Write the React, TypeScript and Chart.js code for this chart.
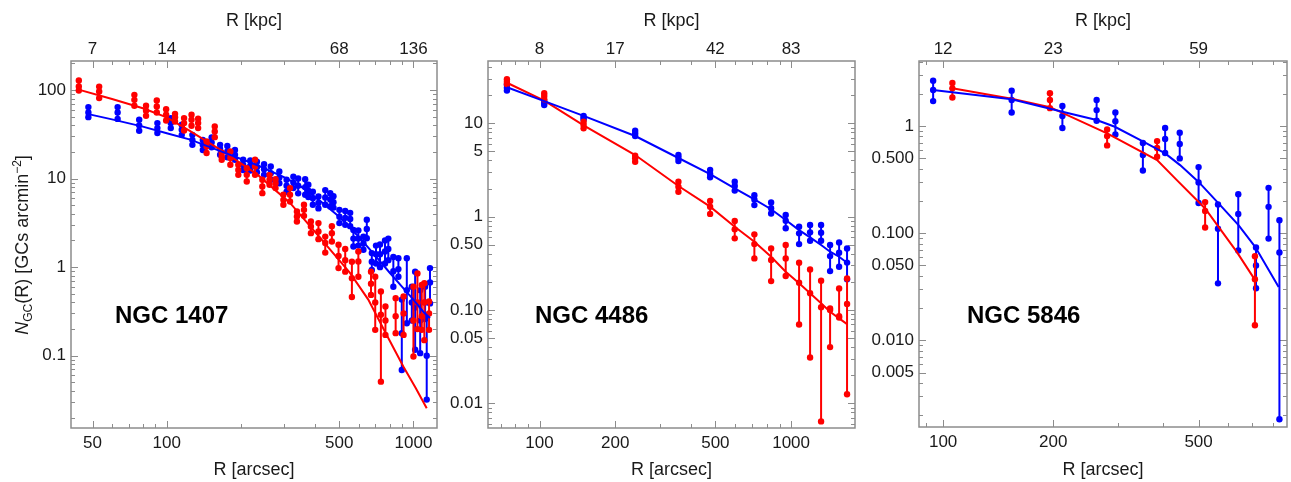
import React, { useEffect, useRef } from "react";
import { Chart, registerables } from "chart.js";

Chart.register(...registerables);

type Row = [number, number, number, number]; // R [arcsec], low, centre, high
type Pt = [number, number];

const RED = "#ff0000";
const BLUE = "#0000ff";
const FONT = '"Liberation Sans", Arial, Helvetica, sans-serif';
const TEXT = "#1a1a1a";
const FRAME = "#8c8c8c";

// ---------------- NGC 1407 ----------------
const n1407XTicks = [50, 100, 500, 1000];
const n1407XLabels = ["50", "100", "500", "1000"];
const n1407KpcLabels = ["7", "14", "68", "136"];
const n1407YTicks = [0.1, 1, 10, 100];
const n1407YLabels = ["0.1", "1", "10", "100"];

const n1407Red: Row[] = [
  [44.0, 98.4, 109.6, 127.6], [53.2, 80.8, 95.9, 109], [73.9, 66.2, 77.3, 88],
  [82.4, 51.0, 58.1, 66.2], [91.1, 55.6, 65, 75.9], [99.4, 45.1, 52.4, 60.7],
  [108, 44.0, 49.3, 53.7], [117.5, 34.8, 42.2, 48.1], [126, 39.4, 46, 52.4],
  [134, 37.1, 42.2, 47.2], [145, 19.4, 23.0, 26.2], [156.5, 29.3, 33.9, 38.6],
  [167, 16.3, 17.7, 19.6], [181, 14.3, 17.0, 20.2], [195, 11.0, 12.5, 14.3],
  [211, 9.25, 11.0, 13.1], [228, 11.0, 13.7, 16.3], [244, 6.84, 8.13, 9.67],
  [261, 8.49, 9.67, 11.0], [276, 7.8, 8.87, 9.84], [297, 5.05, 5.75, 6.55],
  [316, 5.5, 6.55, 7.8], [337, 3.27, 3.73, 4.24], [360, 3.79, 4.43, 5.05],
  [384, 2.42, 2.87, 3.27], [412, 2.07, 2.52, 3.14], [439, 1.46, 1.87, 2.21],
  [467, 1.95, 2.42, 2.9], [497, 0.975, 1.34, 1.79], [529, 0.89, 1.2, 1.6],
  [563, 0.46, 0.75, 1.15], [598, 0.78, 1.16, 1.5], [673, 0.486, 0.65, 0.89],
  [700, 0.196, 0.4, 0.78], [738, 0.051, 0.29, 0.53], [770, 0.172, 0.25, 0.359],
  [847, 0.18, 0.28, 0.447], [912, 0.172, 0.3, 0.466], [1000, 0.098, 0.25, 0.6],
  [1038, 0.2, 0.4, 0.85], [1081, 0.196, 0.28, 0.63], [1107, 0.15, 0.4, 0.66],
  [1157, 0.196, 0.3, 0.41],
];

const n1407Blue: Row[] = [
  [48.1, 49.3, 55.6, 64], [63.2, 47.1, 55.6, 64], [77.3, 34.6, 39.8, 46],
  [91.6, 32.6, 37.1, 42.2], [103.8, 37.1, 42.2, 48.1], [115, 31.1, 35.5, 40.4],
  [127, 24.0, 27.3, 31.1], [140, 21.0, 24.0, 27.3], [152, 22.5, 25.5, 29],
  [164.5, 18.6, 21.5, 24], [176, 17.4, 20.2, 23.3], [189, 16.3, 18.5, 21],
  [204, 12.5, 14.3, 16.3], [218, 12.3, 14, 16], [232, 11.8, 13.5, 15.5],
  [248, 11.0, 12.7, 14.5], [264, 9.67, 11.5, 13.7], [286, 8.85, 10.3, 12.0],
  [306, 7.1, 8.3, 9.67], [326, 7.8, 9.0, 10.5], [341, 6.8, 8.3, 10],
  [364, 6.55, 8.0, 9.84], [375, 6.2, 7.3, 8.5], [391, 5.05, 6.0, 7.1],
  [412, 4.6, 5.3, 6.27], [439, 5.05, 6.1, 7.4], [460, 4.83, 5.8, 6.84],
  [474, 4.7, 5.4, 6.3], [501, 3.14, 3.7, 4.43], [529, 3.0, 3.6, 4.3],
  [554, 2.9, 3.5, 4.1], [571, 1.71, 2.1, 2.63], [598, 1.75, 2.1, 2.6],
  [627, 1.57, 1.85, 2.21], [647, 2.12, 2.7, 3.42], [678, 0.93, 1.15, 1.44],
  [705, 1.1, 1.4, 1.75], [732, 1.0, 1.4, 1.8], [767, 1.1, 1.5, 2.0],
  [791, 1.2, 1.6, 2.1], [829, 0.6, 0.9, 1.3], [869, 0.78, 0.95, 1.26],
  [897, 0.069, 0.18, 0.43], [940, 0.233, 0.55, 1.26], [985, 0.25, 0.4, 0.6],
  [1016, 0.117, 0.35, 0.89], [1065, 0.107, 0.25, 0.55], [1115, 0.26, 0.4, 0.6],
  [1132, 0.032, 0.1, 0.277], [1167, 0.39, 0.67, 0.975],
];

const n1407RedFit: Pt[] = [
  [43.2, 102], [60, 79], [80, 62], [100, 49], [124, 34.5], [167, 20.7],
  [232, 11.2], [316, 5.3], [412, 2.25], [553, 0.86], [656, 0.43], [780, 0.17],
  [910, 0.0755], [1020, 0.0435], [1132, 0.0256],
];
const n1407BlueFit: Pt[] = [
  [47.1, 54], [60, 46.5], [80, 38.5], [100, 32.5], [124.5, 27.5], [164, 20.5],
  [232, 14.2], [300, 10.3], [346, 8.3], [418, 5.6], [500, 3.7], [600, 2.2],
  [700, 1.35], [800, 0.87], [900, 0.6], [1000, 0.43], [1100, 0.31], [1167, 0.266],
];

// ---------------- NGC 4486 ----------------
const n4486XTicks = [100, 200, 500, 1000];
const n4486XLabels = ["100", "200", "500", "1000"];
const n4486KpcLabels = ["8", "17", "42", "83"];
const n4486YTicks = [0.01, 0.05, 0.1, 0.5, 1, 5, 10];
const n4486YLabels = ["0.01", "0.05", "0.10", "0.50", "1", "5", "10"];

const n4486Blue: Row[] = [
  [74.2, 22.4, 24.0, 26.0], [104.4, 15.7, 16.5, 17.4], [149.7, 11.0, 11.5, 12.0],
  [240, 7.31, 7.82, 8.33], [356.6, 3.94, 4.28, 4.57], [476.6, 2.64, 2.86, 3.16],
  [597, 1.9, 2.13, 2.37], [714.6, 1.33, 1.53, 1.7], [833, 1.08, 1.23, 1.42],
  [952, 0.75, 0.904, 1.04], [1076, 0.508, 0.662, 0.78], [1190, 0.552, 0.679, 0.813],
  [1316, 0.552, 0.673, 0.813], [1429, 0.261, 0.378, 0.497], [1552, 0.29, 0.41, 0.53],
  [1669, 0.213, 0.322, 0.455],
];
const n4486Red: Row[] = [
  [74.2, 26.4, 27.9, 29.6], [104.4, 18.1, 19.6, 21.0], [149.7, 8.83, 9.6, 10.4],
  [240, 3.87, 4.22, 4.5], [356.6, 1.85, 2.09, 2.37], [476.6, 1.07, 1.28, 1.47],
  [597, 0.585, 0.731, 0.897], [714.6, 0.357, 0.508, 0.646], [833, 0.204, 0.343, 0.457],
  [952, 0.231, 0.357, 0.497], [1076, 0.07, 0.196, 0.321], [1190, 0.031, 0.151, 0.272],
  [1316, 0.0064, 0.107, 0.206], [1429, 0.04, 0.1, 0.104], [1552, 0.083, 0.086, 0.17],
  [1669, 0.0125, 0.116, 0.218],
];
const n4486BlueFit: Pt[] = [
  [74.2, 24.3], [104.4, 17.3], [149.7, 12.0], [240, 7.31], [356.6, 4.25],
  [476.6, 2.86], [597, 2.01], [714.6, 1.53], [833, 1.2], [952, 0.92],
  [1076, 0.718], [1190, 0.6], [1316, 0.497], [1429, 0.421], [1552, 0.372], [1669, 0.32],
];
const n4486RedFit: Pt[] = [
  [74.2, 27.2], [104.4, 17.5], [149.7, 9.5], [240, 4.57], [356.6, 2.13],
  [476.6, 1.28], [597, 0.78], [714.6, 0.538], [833, 0.372], [952, 0.257],
  [1076, 0.193], [1190, 0.151], [1316, 0.118], [1429, 0.0957], [1552, 0.0813], [1669, 0.0706],
];

// ---------------- NGC 5846 ----------------
const n5846XTicks = [100, 200, 500];
const n5846XLabels = ["100", "200", "500"];
const n5846KpcLabels = ["12", "23", "59"];
const n5846YTicks = [0.005, 0.01, 0.05, 0.1, 0.5, 1];
const n5846YLabels = ["0.005", "0.010", "0.050", "0.100", "0.500", "1"];

const n5846Blue: Row[] = [
  [93.9, 1.71, 2.17, 2.65], [154, 1.34, 1.75, 2.14], [212, 0.958, 1.24, 1.54],
  [263, 1.12, 1.41, 1.75], [296, 0.836, 1.11, 1.34], [352, 0.385, 0.536, 0.694],
  [405, 0.56, 0.756, 0.958], [444, 0.499, 0.679, 0.866], [500, 0.191, 0.298, 0.414],
  [565, 0.034, 0.11, 0.185], [642, 0.069, 0.151, 0.231], [718, 0.0306, 0.05, 0.0735],
  [777, 0.089, 0.176, 0.265], [832, 0.00183, 0.066, 0.132],
];
const n5846Red: Row[] = [
  [106, 1.85, 2.25, 2.52], [196, 1.47, 1.75, 2.03], [281, 0.66, 0.806, 0.93],
  [385, 0.517, 0.623, 0.724], [521, 0.113, 0.161, 0.195], [713, 0.0138, 0.0372, 0.061],
];
const n5846BlueFit: Pt[] = [
  [93.9, 2.17], [154, 1.78], [212, 1.36], [263, 1.14], [295, 0.985], [354, 0.713],
  [405, 0.556], [445, 0.432], [500, 0.301], [567, 0.19], [643, 0.119], [714, 0.0745],
  [828, 0.0315],
];
const n5846RedFit: Pt[] = [
  [106, 2.25], [154, 1.8], [196, 1.5], [281, 0.855], [385, 0.481], [436, 0.313],
  [521, 0.17], [636, 0.0669], [711, 0.0372],
];

interface Panel {
  name: string;
  left: number;
  width: number;
  axisW: number;
  rightPad: number;
  bottomH: number;
  xMin: number; xMax: number; yMin: number; yMax: number;
  xTicks: number[]; xLabels: string[]; kpcLabels: string[];
  yTicks: number[]; yLabels: string[];
  red: Row[]; blue: Row[]; redFit: Pt[]; blueFit: Pt[];
  nameX: number;
  yTitle: boolean;
}

const panels: Panel[] = [
  {
    name: "NGC 1407", left: 0, width: 445, axisW: 71, rightPad: 8, bottomH: 54,
    xMin: 40.9, xMax: 1246, yMin: 0.0153, yMax: 212,
    xTicks: n1407XTicks, xLabels: n1407XLabels, kpcLabels: n1407KpcLabels,
    yTicks: n1407YTicks, yLabels: n1407YLabels,
    red: n1407Red, blue: n1407Blue, redFit: n1407RedFit, blueFit: n1407BlueFit,
    nameX: 115, yTitle: true,
  },
  {
    name: "NGC 4486", left: 445, width: 425, axisW: 43, rightPad: 15, bottomH: 54,
    xMin: 62.4, xMax: 1795, yMin: 0.00544, yMax: 46.5,
    xTicks: n4486XTicks, xLabels: n4486XLabels, kpcLabels: n4486KpcLabels,
    yTicks: n4486YTicks, yLabels: n4486YLabels,
    red: n4486Red, blue: n4486Blue, redFit: n4486RedFit, blueFit: n4486BlueFit,
    nameX: 90, yTitle: false,
  },
  {
    name: "NGC 5846", left: 870, width: 421, axisW: 49, rightPad: 4, bottomH: 55,
    xMin: 85.9, xMax: 872.7, yMin: 0.00155, yMax: 4.05,
    xTicks: n5846XTicks, xLabels: n5846XLabels, kpcLabels: n5846KpcLabels,
    yTicks: n5846YTicks, yLabels: n5846YLabels,
    red: n5846Red, blue: n5846Blue, redFit: n5846RedFit, blueFit: n5846BlueFit,
    nameX: 97, yTitle: false,
  },
];

function labelFor(ticks: number[], labels: string[], v: number): string {
  for (let i = 0; i < ticks.length; i++) {
    if (Math.abs(ticks[i] - v) / ticks[i] < 1e-6) return labels[i];
  }
  return "";
}

function errData(rows: Row[]) {
  const out: { x: number; y: number | null }[] = [];
  rows.forEach(([r, lo, c, hi]) => {
    out.push({ x: r, y: lo }, { x: r, y: c }, { x: r, y: hi }, { x: r, y: null });
  });
  return out;
}

const decor = {
  id: "decor",
  beforeDatasetsDraw(chart: any, _args: any, o: any) {
    const { ctx, chartArea: a } = chart;
    const xs = chart.scales.x;
    const ys = chart.scales.y;
    ctx.save();
    const logTicks = (min: number, max: number, majors: number[], cb: (v: number, major: boolean) => void) => {
      for (let d = Math.floor(Math.log10(min)); d <= Math.ceil(Math.log10(max)); d++) {
        for (let m = 1; m <= 9; m++) {
          const v = m * Math.pow(10, d);
          if (v < min || v > max) continue;
          cb(v, majors.some((t) => Math.abs(t - v) / v < 1e-6));
        }
      }
    };
    ctx.strokeStyle = FRAME;
    ctx.lineWidth = 1;
    ctx.beginPath();
    logTicks(xs.min, xs.max, o.xTicks, (v, major) => {
      const px = Math.round(xs.getPixelForValue(v)) + 0.5;
      const L = major ? 7 : 4;
      ctx.moveTo(px, a.bottom);
      ctx.lineTo(px, a.bottom - L);
      ctx.moveTo(px, a.top);
      ctx.lineTo(px, a.top + L);
    });
    logTicks(ys.min, ys.max, o.yTicks, (v, major) => {
      const py = Math.round(ys.getPixelForValue(v)) + 0.5;
      const L = major ? 7 : 4;
      ctx.moveTo(a.left, py);
      ctx.lineTo(a.left + L, py);
      ctx.moveTo(a.right, py);
      ctx.lineTo(a.right - L, py);
    });
    ctx.stroke();
    ctx.lineWidth = 1.5;
    ctx.strokeRect(a.left, a.top, a.right - a.left, a.bottom - a.top);

    // texts
    const cx = (a.left + a.right) / 2;
    ctx.fillStyle = TEXT;
    ctx.textAlign = "center";
    ctx.textBaseline = "middle";
    ctx.font = `18px ${FONT}`;
    ctx.fillText("R [kpc]", cx, 21.5);
    ctx.fillText("R [arcsec]", cx, 470);
    ctx.font = `bold 24px ${FONT}`;
    ctx.textAlign = "left";
    ctx.fillStyle = "#000";
    ctx.fillText(o.name, o.nameX, 316);

    if (o.yTitle) {
      const segs = [
        { t: "N", f: `italic 18px ${FONT}`, dy: 0 },
        { t: "GC", f: `12px ${FONT}`, dy: 4 },
        { t: "(R) [GCs arcmin", f: `18px ${FONT}`, dy: 0 },
        { t: "\u22122", f: `12px ${FONT}`, dy: -7 },
        { t: "]", f: `18px ${FONT}`, dy: 0 },
      ];
      ctx.save();
      ctx.translate(21, 245);
      ctx.rotate(-Math.PI / 2);
      ctx.textBaseline = "alphabetic";
      ctx.textAlign = "left";
      ctx.fillStyle = TEXT;
      let total = 0;
      const widths = segs.map((s) => {
        ctx.font = s.f;
        const w = ctx.measureText(s.t).width;
        total += w;
        return w;
      });
      let x = -total / 2;
      segs.forEach((s, i) => {
        ctx.font = s.f;
        ctx.fillText(s.t, x, 6.5 + s.dy);
        x += widths[i];
      });
      ctx.restore();
    }
    ctx.restore();
  },
};

function makeConfig(p: Panel): any {
  const tickFont = { family: FONT, size: 17 };
  const errStyle = (color: string) => ({
    borderColor: color,
    backgroundColor: color,
    pointBackgroundColor: color,
    pointBorderColor: color,
    borderWidth: 2,
    pointRadius: 3.2,
    pointBorderWidth: 0,
    pointHoverRadius: 0,
    showLine: true,
    spanGaps: false,
    tension: 0,
  });
  const fitStyle = (color: string) => ({
    borderColor: color,
    backgroundColor: color,
    borderWidth: 2,
    pointRadius: 0,
    pointHoverRadius: 0,
    tension: 0,
  });
  return {
    type: "line",
    data: {
      datasets: [
        { data: p.blueFit.map(([x, y]) => ({ x, y })), ...fitStyle(BLUE) },
        { data: p.redFit.map(([x, y]) => ({ x, y })), ...fitStyle(RED) },
        { data: errData(p.red), ...errStyle(RED) },
        { data: errData(p.blue), ...errStyle(BLUE) },
      ],
    },
    options: {
      animation: false,
      responsive: false,
      devicePixelRatio: 1,
      events: [],
      layout: { padding: { left: 0, right: p.rightPad, top: 0, bottom: 0 } },
      plugins: {
        legend: { display: false },
        tooltip: { enabled: false },
        title: { display: false },
        decor: { xTicks: p.xTicks, yTicks: p.yTicks, name: p.name, nameX: p.nameX, yTitle: p.yTitle },
      },
      scales: {
        x: {
          type: "logarithmic",
          position: "bottom",
          min: p.xMin,
          max: p.xMax,
          afterBuildTicks: (s: any) => { s.ticks = p.xTicks.map((v) => ({ value: v })); },
          afterFit: (s: any) => { s.height = p.bottomH; },
          ticks: {
            autoSkip: false, maxRotation: 0, minRotation: 0, padding: 5,
            font: tickFont, color: TEXT,
            callback: (v: any) => labelFor(p.xTicks, p.xLabels, Number(v)),
          },
          grid: { display: false, drawTicks: false },
          border: { display: false },
        },
        x2: {
          type: "logarithmic",
          position: "top",
          min: p.xMin,
          max: p.xMax,
          afterBuildTicks: (s: any) => { s.ticks = p.xTicks.map((v) => ({ value: v })); },
          afterFit: (s: any) => { s.height = 61; },
          ticks: {
            autoSkip: false, maxRotation: 0, minRotation: 0, padding: 1.5,
            font: tickFont, color: TEXT,
            callback: (v: any) => labelFor(p.xTicks, p.kpcLabels, Number(v)),
          },
          grid: { display: false, drawTicks: false },
          border: { display: false },
        },
        y: {
          type: "logarithmic",
          position: "left",
          min: p.yMin,
          max: p.yMax,
          afterBuildTicks: (s: any) => { s.ticks = p.yTicks.map((v) => ({ value: v })); },
          afterFit: (s: any) => { s.width = p.axisW; },
          ticks: {
            autoSkip: false, padding: 5,
            font: tickFont, color: TEXT,
            callback: (v: any) => labelFor(p.yTicks, p.yLabels, Number(v)),
          },
          grid: { display: false, drawTicks: false },
          border: { display: false },
        },
      },
    },
    plugins: [decor],
  };
}

function PanelChart({ p }: { p: Panel }) {
  const ref = useRef<HTMLCanvasElement | null>(null);
  useEffect(() => {
    if (!ref.current) return;
    const chart = new Chart(ref.current, makeConfig(p));
    return () => chart.destroy();
  }, [p]);
  return (
    <canvas
      ref={ref}
      width={p.width}
      height={482}
      style={{ position: "absolute", left: p.left, top: 0, width: p.width, height: 482, display: "block" }}
    />
  );
}

export default function App() {
  return (
    <div style={{ position: "fixed", left: 0, top: 0, width: 1291, height: 482, background: "#fff", overflow: "hidden" }}>
      {panels.map((p) => (
        <PanelChart key={p.name} p={p} />
      ))}
    </div>
  );
}
